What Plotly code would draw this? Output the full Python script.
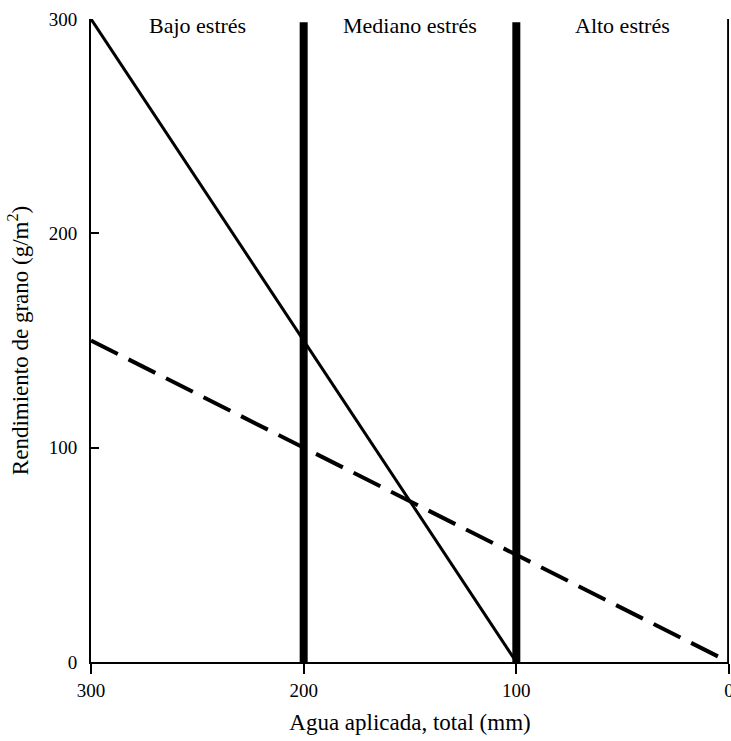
import plotly.graph_objects as go

# Data
water_solid = [300, 200, 150, 100]
yield_solid = [300, 150, 75, 0]
water_dashed = [300, 200, 150, 100, 0]
yield_dashed = [150, 100, 75, 50, 0]
boundaries = [200, 100]
zone_labels = ["Bajo estrés", "Mediano estrés", "Alto estrés"]
zone_centers = [250, 150, 50]
x_ticks = [300, 200, 100, 0]
y_ticks = [0, 100, 200, 300]

FONT = "Liberation Serif"

fig = go.Figure()
fig.add_trace(go.Scatter(x=water_solid, y=yield_solid, mode="lines",
                         line=dict(color="black", width=3), showlegend=False,
                         cliponaxis=False))
fig.add_trace(go.Scatter(x=water_dashed, y=yield_dashed, mode="lines",
                         line=dict(color="black", width=4, dash="30px,12px"),
                         showlegend=False, cliponaxis=False))

for b in boundaries:
    fig.add_shape(type="line", x0=b, x1=b, y0=0, y1=298.5, xref="x", yref="y",
                  line=dict(color="black", width=8))
# right border line at x=0
fig.add_shape(type="line", x0=0.3, x1=0.3, y0=0, y1=305, xref="x", yref="y",
              line=dict(color="black", width=2.5))

for lab, c in zip(zone_labels, zone_centers):
    fig.add_annotation(x=c, y=297, xref="x", yref="y", text=lab, showarrow=False,
                       font=dict(family=FONT, size=22, color="black"))

fig.update_xaxes(range=[300, 0], tickvals=x_ticks, ticktext=[str(v) for v in x_ticks],
                 showgrid=False, zeroline=False, showline=True, linecolor="black",
                 linewidth=2, ticks="outside", ticklen=10, tickwidth=2, tickcolor="black",
                 ticklabeloverflow="allow", automargin=False,
                 tickfont=dict(family=FONT, size=19, color="black"),
                 title=dict(text="Agua aplicada, total (mm)", standoff=14,
                            font=dict(family=FONT, size=23, color="black")))
fig.update_yaxes(range=[0, 300], tickvals=y_ticks, ticktext=[str(v) for v in y_ticks],
                 showgrid=False, zeroline=False, showline=True, linecolor="black",
                 linewidth=2, ticks="inside", ticklen=8, tickwidth=2, tickcolor="black",
                 ticklabelstandoff=8, automargin=False,
                 tickfont=dict(family=FONT, size=19, color="black"),
                 title=dict(text="Rendimiento de grano (g/m<sup>2</sup>)", standoff=14,
                            font=dict(family=FONT, size=23, color="black")))

fig.update_layout(width=731, height=741, margin=dict(l=91, r=2, t=19, b=79),
                  plot_bgcolor="white", paper_bgcolor="white",
                  font=dict(family=FONT, color="black"))

# remove the default page margin so the figure fills the window exactly
fig.write_html("out.html", config={"displayModeBar": False},
               post_script="document.body.style.margin='0';document.body.style.overflow='hidden';")
